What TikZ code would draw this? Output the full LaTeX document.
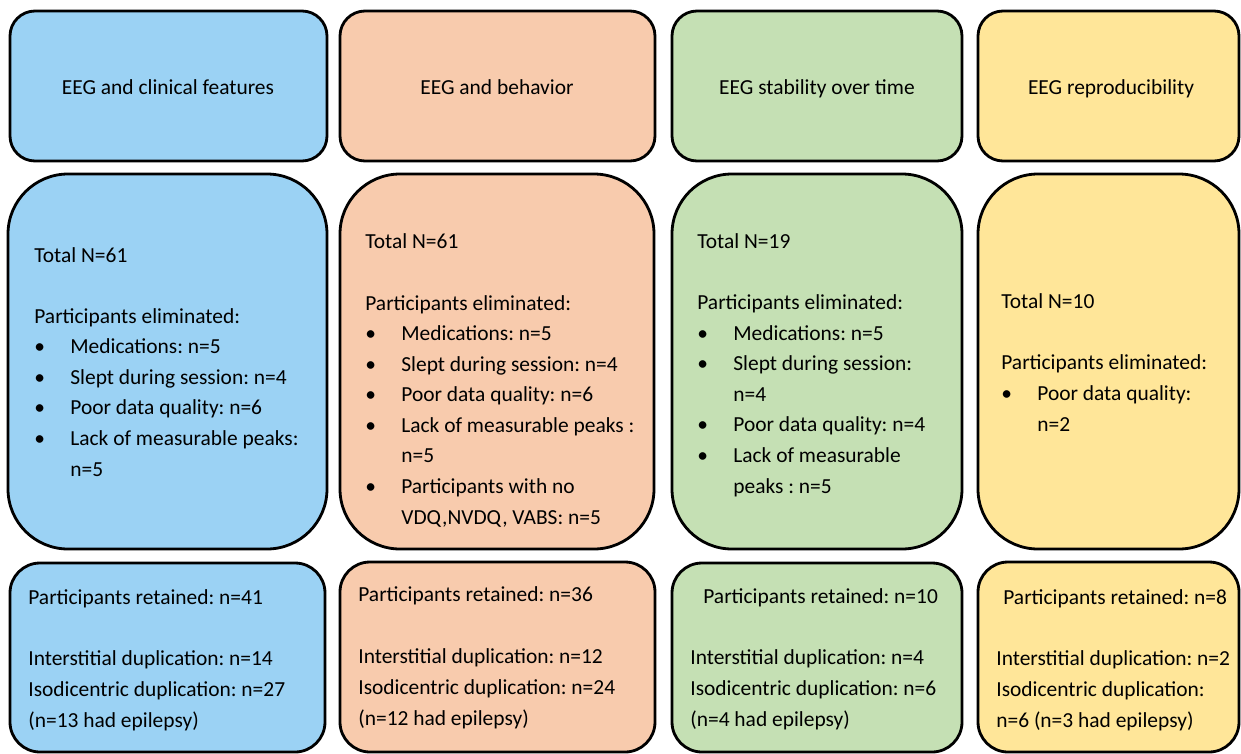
\documentclass[tikz,border=0pt]{standalone}
\usepackage{fontspec}
\setmainfont{Carlito}
\frenchspacing
\definecolor{cblue}{RGB}{155,210,244}
\definecolor{corange}{RGB}{248,203,173}
\definecolor{cgreen}{RGB}{197,224,180}
\definecolor{cyellow}{RGB}{255,230,153}
\newcommand{\bul}{\makebox[0.72cm][l]{•}}
\newcommand{\ind}{\makebox[0.72cm][l]{}}
\begin{document}
\begin{tikzpicture}[x=0.02cm,y=-0.02cm,
  frame/.style={draw=black,line width=1.6pt},
  rowa/.style={frame,rounded corners=0.5cm},
  rowb/.style={frame,rounded corners=1.2cm},
  rowc/.style={frame,rounded corners=0.6cm},
  txt/.style={anchor=base west,align=left,inner sep=0pt,font=\fontsize{12.2}{17.4}\selectfont},
  ttl/.style={anchor=base,inner sep=0pt,font=\fontsize{12.2}{17.4}\selectfont}]
\useasboundingbox (0,0) rectangle (1241,754);
% row 1
\draw[rowa,fill=cblue]   (10,11) rectangle (327,161);
\draw[rowa,fill=corange] (340,11) rectangle (655,161);
\draw[rowa,fill=cgreen]  (672,11) rectangle (962,161);
\draw[rowa,fill=cyellow] (978,11) rectangle (1239,161);
% row 2
\draw[rowb,fill=cblue]   (8,174) rectangle (327,549);
\draw[rowb,fill=corange] (340,174) rectangle (654,549);
\draw[rowb,fill=cgreen]  (672,174) rectangle (962,549);
\draw[rowb,fill=cyellow] (978,174) rectangle (1239,549);
% row 3
\draw[rowc,fill=cblue]   (10,563) rectangle (325,752);
\draw[rowc,fill=corange] (340,562) rectangle (655,752);
\draw[rowc,fill=cgreen]  (672,563) rectangle (962,752);
\draw[rowc,fill=cyellow] (978,562) rectangle (1239,752);
% titles
\node[ttl] (t1) at (168,94) {EEG and clinical features};
\node[ttl] (t2) at (497,94) {EEG and behavior};
\node[ttl] (t3) at (817,94) {EEG stability over time};
\node[ttl] (t4) at (1111,94) {EEG reproducibility};
% row 2 texts (anchor at baseline of last line)
\node[txt] (e1) at (34,476) {Total N=61\\[17.4pt]Participants eliminated:\\
\bul Medications: n=5\\ \bul Slept during session: n=4\\ \bul Poor data quality: n=6\\
\bul Lack of measurable peaks:\\ \ind n=5};
\node[txt] (e2) at (365,524) {Total N=61\\[17.4pt]Participants eliminated:\\
\bul Medications: n=5\\ \bul Slept during session: n=4\\ \bul Poor data quality: n=6\\
\bul Lack of measurable peaks :\\ \ind n=5\\ \bul Participants with no\\ \ind VDQ,NVDQ, VABS: n=5};
\node[txt] (e3) at (697,493) {Total N=19\\[17.4pt]Participants eliminated:\\
\bul Medications: n=5\\ \bul Slept during session:\\ \ind n=4\\ \bul Poor data quality: n=4\\
\bul Lack of measurable\\ \ind peaks : n=5};
\node[txt] (e4) at (1001,431) {Total N=10\\[17.4pt]Participants eliminated:\\
\bul Poor data quality:\\ \ind n=2};
% row 3 texts
\node[txt] (r1) at (28,604) {Participants retained: n=41};
\node[txt] (d1) at (28,727) {Interstitial duplication: n=14\\Isodicentric duplication: n=27\\(n=13 had epilepsy)};
\node[txt] (r2) at (358,601) {Participants retained: n=36};
\node[txt] (d2) at (358,725) {Interstitial duplication: n=12\\Isodicentric duplication: n=24\\(n=12 had epilepsy)};
\node[txt] (r3) at (703,603) {Participants retained: n=10};
\node[txt] (d3) at (690,726) {Interstitial duplication: n=4\\Isodicentric duplication: n=6\\(n=4 had epilepsy)};
\node[txt] (r4) at (1003,604) {Participants retained: n=8};
\node[txt] (d4) at (996,727) {Interstitial duplication: n=2\\Isodicentric duplication:\\n=6 (n=3 had epilepsy)};
\end{tikzpicture}
\end{document}
